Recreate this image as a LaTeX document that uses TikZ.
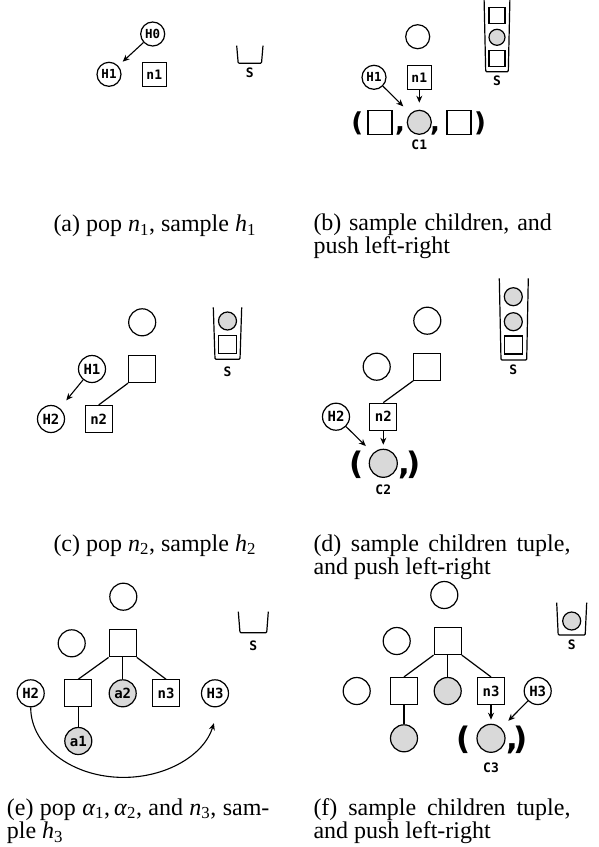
\documentclass[tikz,border=0pt]{standalone}
\usepackage{fontspec}
\setmainfont{Liberation Serif}
\newfontfamily\labfont{DejaVu Sans Mono}[BoldFont={DejaVu Sans Mono Bold}]
\newfontfamily\parfont{DejaVu Sans}[BoldFont={DejaVu Sans Bold}]
\usetikzlibrary{arrows.meta}
\newcommand\sbs[1]{\textsubscript{#1}}
\tikzset{
  shp/.style={draw, line width=1.2pt, inner sep=0pt},
  hA/.style={shp, circle, minimum size=24pt, font=\labfont\bfseries\fontsize{12.5}{12.5}\selectfont},
  hB/.style={shp, circle, minimum size=27pt, font=\labfont\bfseries\fontsize{14}{14}\selectfont},
  sqA/.style={shp, rectangle, minimum size=24pt, font=\labfont\bfseries\fontsize{13}{13}\selectfont},
  sqB/.style={shp, rectangle, minimum size=27pt, font=\labfont\bfseries\fontsize{14}{14}\selectfont},
  gr/.style={fill=gray!30},
  bsq/.style={shp, rectangle, minimum size=#1},
  bsq/.default=18pt,
  bci/.style={shp, circle, fill=gray!30, minimum size=#1},
  bci/.default=18pt,
  binln/.style={line width=1.2pt, rounded corners=1pt},
  arr/.style={line width=1.1pt, -{Stealth[length=7pt,width=6pt]}},
  con/.style={line width=1.2pt},
  lbl/.style={inner sep=0pt, font=\labfont\bfseries\fontsize{13}{13}\selectfont},
  captxt/.style={inner sep=0pt, anchor=base west, font=\fontsize{24}{23.3}\selectfont},
  parA/.style={inner sep=0pt, anchor=base, font=\parfont\bfseries\fontsize{26}{26}\selectfont},
  parB/.style={inner sep=0pt, anchor=base, font=\parfont\bfseries\fontsize{31}{31}\selectfont},
}
\begin{document}
\begin{tikzpicture}[x=1pt,y=-1pt]
\useasboundingbox (0,0) rectangle (598,847);
% ---------- (a)
\node[hA] (a-h0) at (152.7,34) {H0};
\node[hA] (a-h1) at (109,74.3) {H1};
\node[sqA] (a-n1) at (154.3,74.3) {n1};
\draw[arr, shorten >=6pt] (a-h0) -- (a-h1);
\draw[binln] (236.7,45.7) -- (238.2,63.3) -- (261.5,63.3) -- (263,45.7);
\node[lbl] (a-s) at (249.8,72.7) {S};
\node[captxt] (a-cap) at (53.3,231.7) {(a) pop \textit{n}\sbs{1}, sample \textit{h}\sbs{1}};
% ---------- (b)
\node[hA] (b-c0) at (417.7,36.7) {};
\draw[binln] (484,-5) -- (485.7,71.7) -- (508.3,71.7) -- (510,-5);
\node[bsq=16pt] (b-s1) at (497,15.7) {};
\node[bci=16pt] (b-s2) at (497,37.3) {};
\node[bsq=16pt] (b-s3) at (497,58.3) {};
\node[lbl] (b-s) at (497,80.7) {S};
\node[hA] (b-h1) at (374,77.3) {H1};
\node[sqA] (b-n1) at (419.3,77.3) {n1};
\node[sqA] (b-t1) at (380,122.3) {};
\node[hA, gr] (b-t2) at (419.3,122.3) {};
\node[sqA] (b-t3) at (459,122.3) {};
\node[parA] (b-lp) at (357.3,131.6) {(};
\node[parA] (b-cm1) at (400,131.6) {,};
\node[parA] (b-cm2) at (435,131.6) {,};
\node[parA] (b-rp) at (480,131.6) {)};
\node[lbl] (b-c1) at (419.3,145) {C1};
\draw[arr, shorten >=7pt] (b-n1) -- (b-t2);
\draw[arr, shorten >=10pt] (b-h1) -- (b-t2);
\node[captxt] (b-cap1) at (313.3,230) {\makebox[238.4pt][s]{(b) sample children, and}};
\node[captxt] (b-cap2) at (313.3,253.3) {push left-right};
% ---------- (c)
\node[hB] (c-c0) at (142.2,322.3) {};
\node[sqB] (c-q0) at (142.2,369) {};
\node[hB] (c-h1) at (92,369) {H1};
\node[hB] (c-h2) at (51,419) {H2};
\node[sqB] (c-n2) at (98.7,419) {n2};
\draw[con] (c-q0.south west) -- (c-n2.north);
\draw[arr, shorten >=10pt] (c-h1) -- (c-h2);
\draw[binln] (213.3,307.3) -- (215,359.3) -- (240,359.3) -- (241.7,307.3);
\node[bci] (c-s1) at (227.5,321) {};
\node[bsq] (c-s2) at (227.5,344.3) {};
\node[lbl] (c-s) at (227.5,371.7) {S};
\node[captxt] (c-cap) at (53.3,551) {(c) pop \textit{n}\sbs{2}, sample \textit{h}\sbs{2}};
% ---------- (d)
\node[hB] (d-c0) at (427.3,320.7) {};
\node[hB] (d-c1) at (376.7,366.7) {};
\node[sqB] (d-q0) at (427.3,366.7) {};
\node[sqB] (d-n2) at (383.3,416.7) {n2};
\node[hB] (d-h2) at (336,416.7) {H2};
\draw[con] (d-q0.south west) -- (d-n2.north);
\node[hB, minimum size=28pt, gr] (d-t1) at (383.3,463.3) {};
\node[parB] (d-lp) at (356.7,474.3) {(};
\node[parB] (d-cm) at (404,474.3) {,};
\node[parB] (d-rp) at (413.3,474.3) {)};
\node[lbl] (d-c2) at (383.3,490) {C2};
\draw[arr, shorten >=4pt] (d-n2) -- (d-t1);
\draw[arr, shorten >=10pt] (d-h2) -- (d-t1);
\draw[binln] (499.3,278.3) -- (501,360) -- (526.7,360) -- (528.3,278.3);
\node[bci] (d-s1) at (513.3,296.7) {};
\node[bci] (d-s2) at (513.3,321.7) {};
\node[bsq] (d-s3) at (513.3,345) {};
\node[lbl] (d-s) at (513.3,369.3) {S};
\node[captxt] (d-cap1) at (313.3,551) {\makebox[257pt][s]{(d) sample children tuple,}};
\node[captxt] (d-cap2) at (313.3,574.3) {and push left-right};
% ---------- (e)
\node[hB] (e-c0) at (123.3,596.7) {};
\node[hB] (e-c1) at (71.7,643.3) {};
\node[sqB] (e-q0) at (122.7,643.3) {};
\node[sqB] (e-q1) at (78.3,693.3) {};
\node[hB, gr] (e-a2) at (122.7,693.3) {a2};
\node[sqB] (e-n3) at (166,693.3) {n3};
\node[hB] (e-h2) at (30.7,693.3) {H2};
\node[hB] (e-h3) at (215,693.3) {H3};
\node[hB, gr] (e-a1) at (78.3,741) {a1};
\draw[con] (e-q0.south west) -- (e-q1.north);
\draw[con] (e-q0.south) -- (e-a2.north);
\draw[con] (e-q0.south east) -- (e-n3.north);
\draw[con] (e-q1.south) -- (e-a1.north);
\draw[arr] (e-h2.south) arc[start angle=180, end angle=13, x radius=92.8, y radius=70];
\draw[binln] (238.3,611.7) -- (240,632.7) -- (266.7,632.7) -- (268.3,611.7);
\node[lbl] (e-s) at (253.3,646) {S};
\node[captxt] (e-cap1) at (6.7,815) {\makebox[262.6pt][s]{(e) pop \textit{α}\sbs{1},\,\textit{α}\sbs{2}, and \textit{n}\sbs{3}, sam-}};
\node[captxt] (e-cap2) at (6.7,838.3) {ple \textit{h}\sbs{3}};
% ---------- (f)
\node[hB] (f-c0) at (444.3,595) {};
\node[hB] (f-c1) at (396.7,641) {};
\node[sqB] (f-q0) at (447.7,641) {};
\node[hB] (f-c2) at (356.7,691) {};
\node[sqB] (f-q1) at (404,691) {};
\node[hB, gr] (f-g1) at (447.7,691) {};
\node[sqB] (f-n3) at (491,691) {n3};
\node[hB] (f-h3) at (537.7,691) {H3};
\node[hB, gr] (f-g2) at (404,738.3) {};
\draw[con] (f-q0.south west) -- (f-q1.north);
\draw[con] (f-q0.south) -- (f-g1.north);
\draw[con] (f-q0.south east) -- (f-n3.north);
\draw[con] (f-q1.south) -- (f-g2.north);
\node[hB, minimum size=28pt, gr] (f-t1) at (491,738.3) {};
\node[parB] (f-lp) at (463.3,749.3) {(};
\node[parB] (f-cm) at (512.3,749.3) {,};
\node[parB] (f-rp) at (521,749.3) {)};
\node[lbl] (f-c3) at (491,768) {C3};
\draw[arr, shorten >=4pt] (f-n3) -- (f-t1);
\draw[arr, shorten >=10pt] (f-h3) -- (f-t1);
\draw[binln] (556.7,602.7) -- (558.2,635) -- (585.2,635) -- (586.7,602.7);
\node[bci] (f-s1) at (571.7,621) {};
\node[lbl] (f-s) at (571.7,645) {S};
\node[captxt] (f-cap1) at (313.3,815) {\makebox[257pt][s]{(f) sample children tuple,}};
\node[captxt] (f-cap2) at (313.3,838.3) {and push left-right};
\end{tikzpicture}
\end{document}
